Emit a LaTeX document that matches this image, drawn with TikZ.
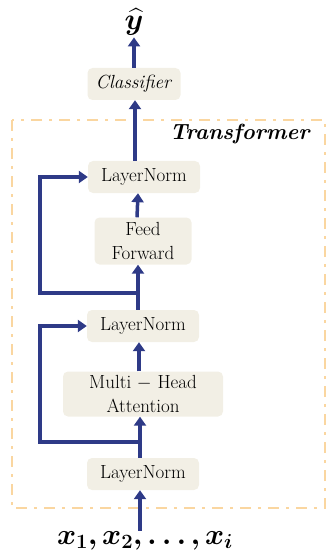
\RequirePackage{fix-cm}
\documentclass[tikz,border=0pt]{standalone}
\usepackage{amsmath,bm}
\usepackage{fontspec}
\usetikzlibrary{arrows.meta}
\definecolor{navy}{RGB}{46,58,135}
\definecolor{boxfill}{RGB}{242,239,229}
\definecolor{dashorange}{RGB}{250,214,160}
\begin{document}
\begin{tikzpicture}[x=1pt,y=-1pt,
  block/.style={fill=boxfill, rounded corners=5pt, minimum height=32pt,
    inner sep=0pt, font=\fontsize{19}{23.5}\selectfont, align=center},
  flow/.style={draw=navy, line width=3.5pt,
    -{Triangle[length=9pt,width=12pt]}},
]
\useasboundingbox (0,0) rectangle (326,556);
% transformer frame
\draw[dashorange, line width=2.5pt, dash pattern=on 11pt off 7pt on 3pt off 7pt]
  (12,120) rectangle (325,508);
\node[anchor=east, font=\fontsize{22}{26}\selectfont, inner sep=0pt] (tlabel) at (311,134)
  {\textbf{\textit{Transformer}}};

% blocks
\node[block, minimum width=93pt] (cls) at (134,84) {\textit{Classifier}};
\node[block, minimum width=112pt] (ln3) at (144,177) {LayerNorm};
\node[block, minimum width=97pt, minimum height=47pt] (ff) at (143,241) {Feed\\Forward};
\node[block, minimum width=112pt] (ln2) at (143,326) {LayerNorm};
\node[block, minimum width=160pt, minimum height=45pt] (mha) at (143,394) {Multi $-$ Head\\Attention};
\node[block, minimum width=112pt] (ln1) at (143,474) {LayerNorm};

% input / output
\node[font=\fontsize{29}{33}\selectfont, inner sep=1pt] (xin) at (145,541) {$\bm{x_1, x_2, \ldots, x_i}$};
\node[font=\fontsize{30}{34}\selectfont, inner sep=0pt] (yhat) at (134,22) {$\bm{\widehat{y}}$};

% main flow
\draw[flow] ([xshift=-5pt]xin.north) -- ([xshift=-3pt]ln1.south);
\draw[flow] ([xshift=-3pt]ln1.north) -- ([xshift=-3pt]mha.south);
\draw[flow] ([xshift=-4pt]mha.north) -- ([xshift=-4pt]ln2.south);
\draw[flow] ([xshift=-5pt]ln2.north) -- ([xshift=-5pt]ff.south);
\draw[flow] ([xshift=-6pt]ff.north) -- ([xshift=-6pt]ln3.south);
\draw[flow] ([xshift=-9pt]ln3.north) -- ([xshift=1pt]cls.south);
\draw[flow] (cls.north) -- ([yshift=-2pt]yhat.south);

% residual connections
\coordinate (r1) at (140,442);
\coordinate (r2) at (138,293);
\draw[flow] (r1) -- ++(-100,0) |- (ln2.west);
\draw[flow] (r2) -- ++(-98,0) |- (ln3.west);
\end{tikzpicture}
\end{document}
